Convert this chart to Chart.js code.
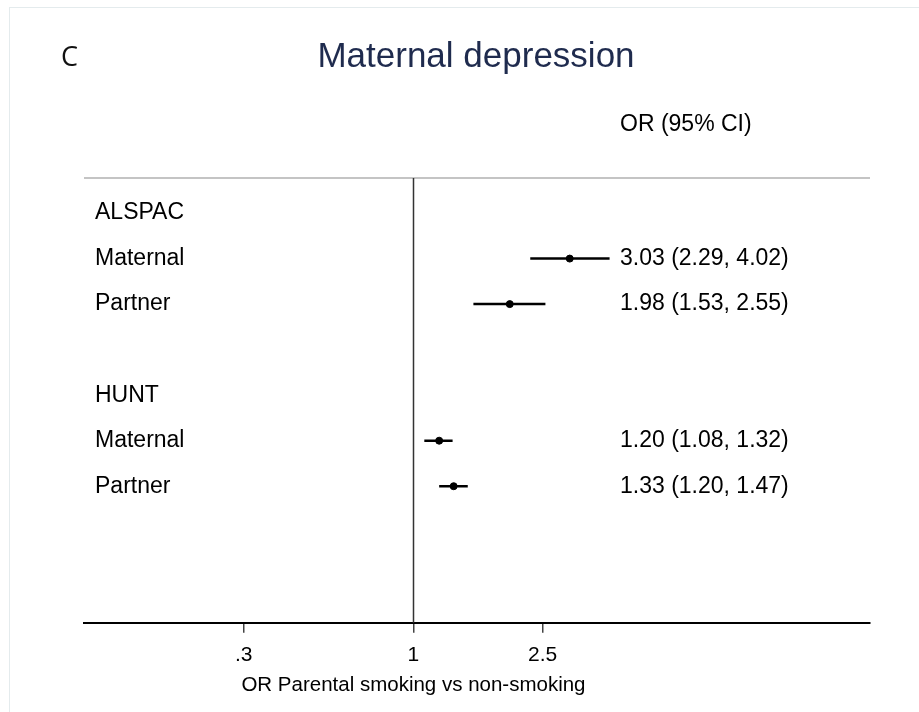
<!DOCTYPE html>
<html>
<head>
<meta charset="utf-8">
<script src="https://cdn.jsdelivr.net/npm/chart.js@4.4.1/dist/chart.umd.min.js"></script>
<style>
  html, body { margin: 0; padding: 0; background: #fff; }
  #wrap { position: relative; width: 919px; height: 712px; }
  #frame { position: absolute; left: 9px; top: 7px; width: 910px; height: 705px;
           border-top: 1.5px solid #e4ebed; border-left: 1.5px solid #e4ebed; box-sizing: border-box; }
  canvas { position: absolute; left: 0; top: 0; }
</style>
</head>
<body>
<div id="wrap">
  <div id="frame"></div>
  <canvas id="c" width="919" height="712"></canvas>
</div>
<script>
// ---- data ----
const rowLabels = ['ALSPAC', 'Maternal', 'Partner', '', 'HUNT', 'Maternal', 'Partner'];
const orValues  = [null, 3.03, 1.98, null, null, 1.20, 1.33];
const ciLow     = [null, 2.29, 1.53, null, null, 1.08, 1.20];
const ciHigh    = [null, 4.02, 2.55, null, null, 1.32, 1.47];
const tickValues = [0.3, 1, 2.5];
const tickLabels = ['.3', '1', '2.5'];
const titleText = 'Maternal depression';
const panelLetter = 'C';
const columnHeader = 'OR (95% CI)';
const xAxisTitle = 'OR Parental smoking vs non-smoking';
const refValue = 1;

// ---- datasets ----
const datasets = [];
rowLabels.forEach((lab, i) => {
  if (orValues[i] == null) return;
  datasets.push({
    type: 'line',
    data: [{x: ciLow[i], y: i}, {x: ciHigh[i], y: i}],
    borderColor: '#000', borderWidth: 2.5, pointRadius: 0, fill: false, order: 2
  });
});
datasets.push({
  type: 'scatter',
  data: rowLabels.map((l, i) => orValues[i] == null ? null : {x: orValues[i], y: i}).filter(Boolean),
  backgroundColor: '#000', borderColor: '#000', pointRadius: 3.5, pointHoverRadius: 3.5, order: 1
});

const FONT = '"Liberation Sans", Arial, sans-serif';

const decor = {
  id: 'decor',
  beforeDatasetsDraw(chart) {
    const {ctx, chartArea, scales} = chart;
    const x = scales.x;
    ctx.save();
    ctx.strokeStyle = '#c4c4c4';
    ctx.lineWidth = 2;
    ctx.beginPath();
    ctx.moveTo(chartArea.left, chartArea.top);
    ctx.lineTo(chartArea.right, chartArea.top);
    ctx.stroke();
    const xr = Math.round(x.getPixelForValue(refValue)) + 0.5;
    ctx.strokeStyle = '#333';
    ctx.lineWidth = 1.5;
    ctx.beginPath();
    ctx.moveTo(xr, chartArea.top);
    ctx.lineTo(xr, chartArea.bottom);
    ctx.stroke();
    ctx.restore();
  },
  afterDraw(chart) {
    const {ctx, scales, chartArea} = chart;
    const x = scales.x, y = scales.y;
    ctx.save();
    ctx.textBaseline = 'middle';
    ctx.fillStyle = '#111';
    ctx.font = '27px "Open Sans", "Noto Sans", sans-serif';
    ctx.textAlign = 'left';
    ctx.fillText(panelLetter, 61, 58);
    ctx.fillStyle = '#1f2b4e';
    ctx.font = '35px ' + FONT;
    ctx.textAlign = 'center';
    ctx.fillText(titleText, 476, 57);
    ctx.fillStyle = '#000';
    ctx.font = '23px ' + FONT;
    ctx.textAlign = 'left';
    ctx.fillText(columnHeader, 620, 125);
    rowLabels.forEach((lab, i) => {
      const py = y.getPixelForValue(i);
      if (lab) ctx.fillText(lab, 95, py);
      if (orValues[i] != null) {
        const s = orValues[i].toFixed(2) + ' (' + ciLow[i].toFixed(2) + ', ' + ciHigh[i].toFixed(2) + ')';
        ctx.fillText(s, 620, py);
      }
    });
    ctx.font = '20.5px ' + FONT;
    ctx.textAlign = 'center';
    ctx.fillText(xAxisTitle, x.getPixelForValue(refValue), chartArea.bottom + 63);
    ctx.restore();
  }
};

new Chart(document.getElementById('c'), {
  data: { datasets },
  options: {
    responsive: false,
    animation: false,
    events: [],
    layout: { padding: { left: 84, right: 49, top: 178, bottom: 34 } },
    plugins: { legend: { display: false }, tooltip: { enabled: false }, title: { display: false } },
    scales: {
      x: {
        type: 'logarithmic',
        min: 0.0966, max: 25.5,
        afterBuildTicks(scale) { scale.ticks = tickValues.map(v => ({value: v})); },
        ticks: {
          autoSkip: false, maxRotation: 0, padding: 10, color: '#000',
          font: { family: FONT, size: 21 },
          callback(v) { const k = tickValues.indexOf(v); return k >= 0 ? tickLabels[k] : ''; }
        },
        grid: { drawOnChartArea: false, drawTicks: true, tickLength: 10, color: '#444', lineWidth: 1.5 },
        border: { display: true, color: '#000', width: 2 },
        title: { display: false }
      },
      y: {
        type: 'linear', min: -0.77, max: 9.0, reverse: true, display: false
      }
    }
  },
  plugins: [decor]
});
</script>
</body>
</html>
